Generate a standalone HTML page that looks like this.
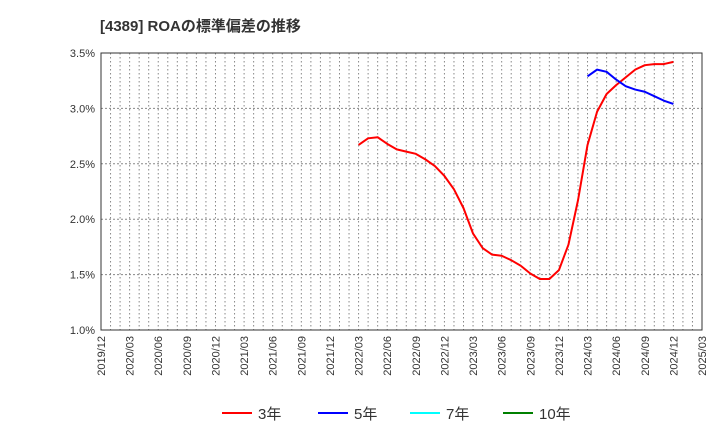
<!DOCTYPE html>
<html><head><meta charset="utf-8"><style>
body{margin:0;background:#fff;font-family:"Liberation Sans","Noto Sans CJK JP",sans-serif;}
</style></head><body>
<svg id="c" width="720" height="440" xmlns="http://www.w3.org/2000/svg" font-family="Liberation Sans, Noto Sans CJK JP, sans-serif">
<text x="100" y="31" font-size="15" font-weight="bold" fill="#333">[4389]  ROAの標準偏差の推移</text>
<g id="grid"></g>
<g id="axes"></g>
<g id="series"></g>
<g id="legend"></g>
</svg>
<script>
const yTicks=[1.0,1.5,2.0,2.5,3.0,3.5];
const xLabels=["2019/12","2020/03","2020/06","2020/09","2020/12","2021/03","2021/06","2021/09","2021/12","2022/03","2022/06","2022/09","2022/12","2023/03","2023/06","2023/09","2023/12","2024/03","2024/06","2024/09","2024/12","2025/03"];
const red3Start=27;
const red3=[2.67,2.73,2.74,2.68,2.63,2.61,2.59,2.54,2.48,2.39,2.27,2.10,1.87,1.74,1.68,1.67,1.63,1.58,1.51,1.46,1.46,1.54,1.77,2.17,2.67,2.97,3.13,3.21,3.28,3.35,3.39,3.40,3.40,3.42];
const blue5Start=51;
const blue5=[3.29,3.35,3.33,3.26,3.20,3.17,3.15,3.11,3.07,3.04];
const L=101,R=702,T=53,B=330,NM=63;
const sx=m=>L+m*(R-L)/NM;
const sy=v=>B-(v-1.0)*(B-T)/2.5;
const NS="http://www.w3.org/2000/svg";
function mk(t,a,p){const e=document.createElementNS(NS,t);for(const k in a)e.setAttribute(k,a[k]);p.appendChild(e);return e;}
const grid=document.getElementById('grid'),axes=document.getElementById('axes'),ser=document.getElementById('series'),leg=document.getElementById('legend');
for(let m=1;m<NM;m++){const l=mk('line',{x1:sx(m),x2:sx(m),y1:T,y2:B,stroke:'#888','stroke-dasharray':'1.5,2.5','stroke-width':1},grid);

}
yTicks.forEach(v=>{const y=sy(v);
if(v>1.0&&v<3.5){const l=mk('line',{x1:L,x2:R,y1:y,y2:y,stroke:'#888','stroke-dasharray':'2,2','stroke-width':1},grid);

}
const t=mk('text',{x:L-6,y:y+4,'text-anchor':'end','font-size':11,fill:'#333'},axes);t.textContent=v.toFixed(1)+'%';

});
xLabels.forEach((s,i)=>{const x=sx(i*3);const t=mk('text',{transform:`translate(${x+4},${B+6}) rotate(-90)`,'text-anchor':'end','font-size':11,fill:'#333'},axes);t.textContent=s;

});
const fr=mk('rect',{x:L,y:T,width:R-L,height:B-T,fill:'none',stroke:'#333','stroke-width':1},axes);


function line(vals,start,col,name){const p=mk('polyline',{points:vals.map((v,i)=>sx(start+i)+','+sy(v)).join(' '),fill:'none',stroke:col,'stroke-width':2,'stroke-linejoin':'round'},ser);

}
line(red3,red3Start,'#ff0000','line-3y');
line(blue5,blue5Start,'#0000ff','line-5y');
[["3年","#ff0000",222],["5年","#0000ff",318],["7年","#00ffff",410],["10年","#008000",503]].forEach(([n,c,x])=>{
const g=mk('g',{},leg);


mk('line',{x1:x,x2:x+30,y1:413,y2:413,stroke:c,'stroke-width':2},g);
const t=mk('text',{x:x+36,y:419,'font-size':15,fill:'#333'},g);t.textContent=n;});
</script>
</body></html>
